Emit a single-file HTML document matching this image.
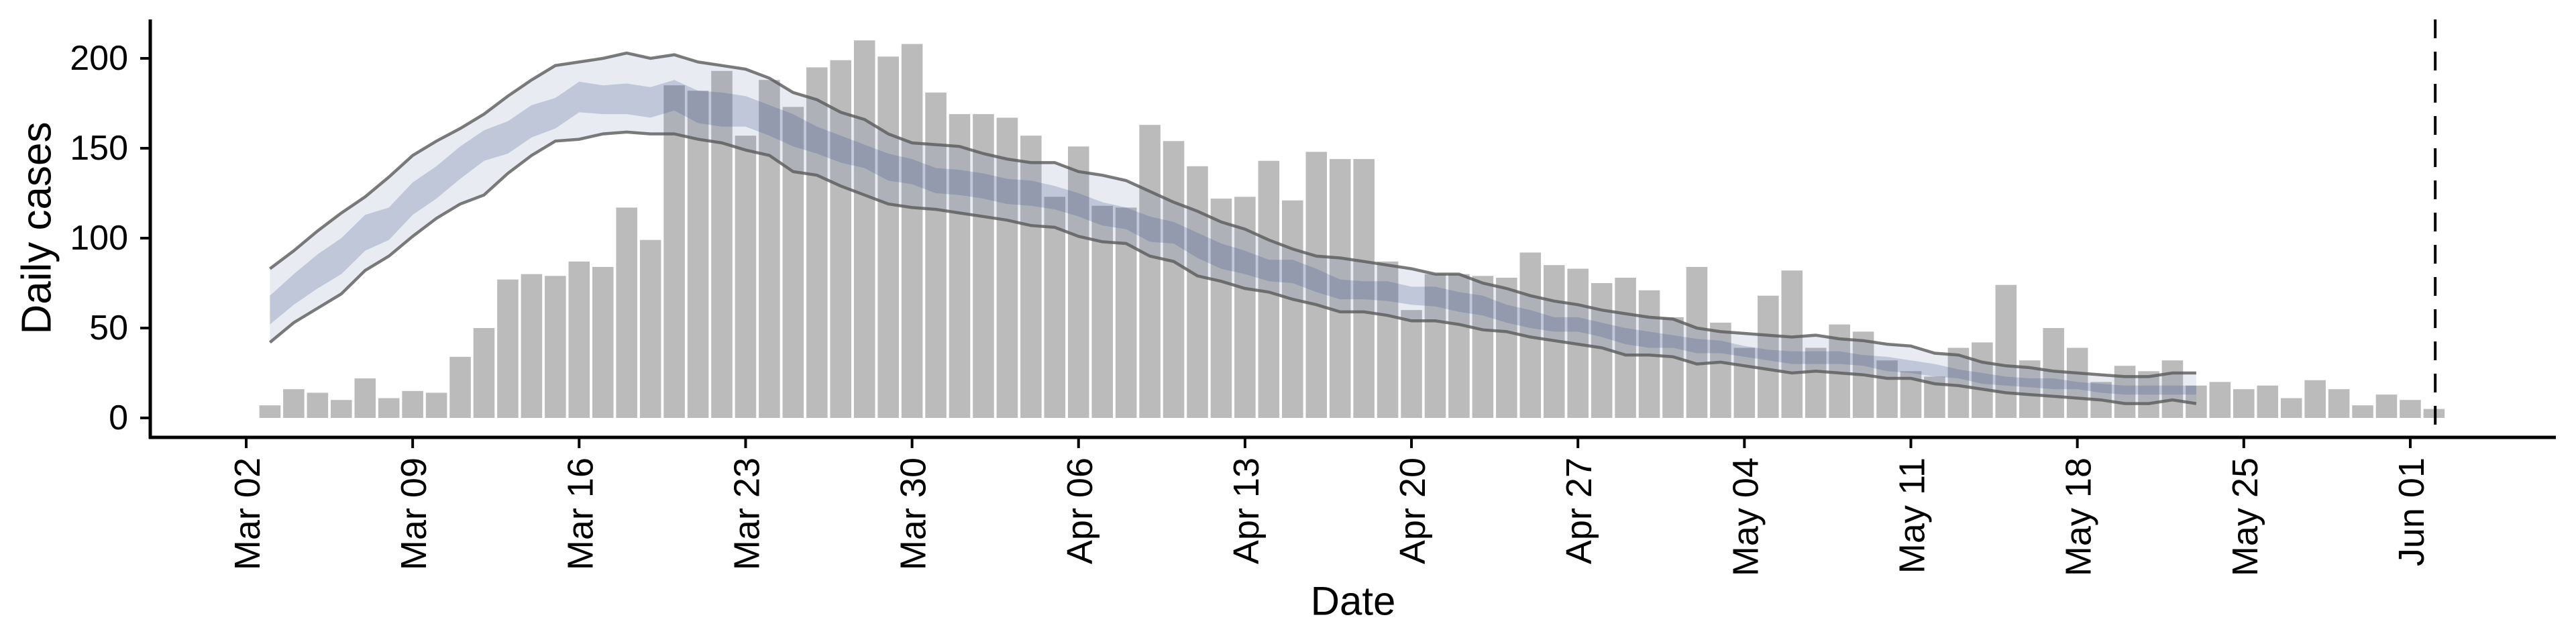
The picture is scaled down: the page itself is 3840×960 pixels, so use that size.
<!DOCTYPE html>
<html><head><meta charset="utf-8"><style>
html,body{margin:0;padding:0;background:#fff;}
svg{display:block;font-family:"Liberation Sans",Arial,sans-serif;}
</style></head><body>
<svg id="chart" width="3840" height="960" viewBox="0 0 3840 960">
<g id="bands"></g>
<g id="bars"></g>
<g id="overlay"></g>
<g id="axes"></g>
<text x="55" y="340" font-size="62" text-anchor="middle" dominant-baseline="central" transform="rotate(-90 55 340)">Daily cases</text>
<text x="2017" y="896" font-size="60" text-anchor="middle" dominant-baseline="central">Date</text>
</svg>
<script>
const cases = [7,16,14,10,22,11,15,14,34,50,77,80,79,87,84,117,99,185,182,193,157,188,173,195,199,210,201,208,181,169,169,167,157,123,151,118,117,163,154,140,122,123,143,121,148,144,144,87,60,80,80,79,78,92,85,83,75,78,71,56,84,53,39,68,82,39,52,48,32,26,23,39,42,74,32,50,39,20,29,26,32,18,20,16,18,11,21,16,7,13,10,5];
const upper90 = [83,93,104,114,123,134,146,154,161,169,179,188,196,198,200,203,200,202,198,196,194,189,181,177,170,166,158,153,152,151,147,144,142,142,137,135,132,126,120,115,109,105,99,94,90,89,87,85,83,80,80,75,72,68,65,63,60,58,56,55,50,48,47,46,45,46,44,43,41,40,36,35,31,29,28,26,25,24,23,23,25,25];
const lower90 = [42,53,61,69,82,90,101,111,119,124,136,146,154,155,158,159,158,158,155,153,149,146,137,135,129,124,119,117,116,114,112,110,107,106,101,98,97,90,87,79,76,72,70,66,63,59,59,57,54,54,52,49,48,45,43,41,39,35,35,34,30,31,29,27,25,26,25,24,22,22,19,18,16,14,13,12,11,10,8,8,10,8];
const upper50 = [68,80,91,100,113,117,131,140,151,160,165,174,178,187,185,186,184,188,182,181,179,174,169,162,157,152,147,144,139,138,136,133,132,129,125,120,117,112,109,103,97,93,88,88,83,77,76,76,73,73,70,68,63,60,56,56,53,50,48,46,44,43,40,38,37,37,37,35,34,32,30,27,25,23,22,22,20,19,18,18,18,18];
const lower50 = [52,63,72,80,93,99,113,122,133,143,147,156,161,170,169,169,167,171,164,162,162,157,151,147,142,139,132,130,125,124,122,119,118,116,112,107,105,98,97,89,83,80,76,75,70,66,66,65,63,62,59,57,53,50,48,48,45,41,39,39,36,36,34,32,30,30,30,29,26,25,23,22,19,18,17,16,16,14,13,13,13,13];
const yTicks = [0,50,100,150,200];
const xTickDays = [0,7,14,21,28,35,42,49,56,63,70,77,84,91];
const xTickLabels = ["Mar 02","Mar 09","Mar 16","Mar 23","Mar 30","Apr 06","Apr 13","Apr 20","Apr 27","May 04","May 11","May 18","May 25","Jun 01"];
const nowDay = 92.05;

const NS = "http://www.w3.org/2000/svg";
const X0 = 367, DAY = 35.45, Y0 = 623, YS = 2.68;
function xs(d){ return X0 + d*DAY; }
function ys(v){ return Y0 - v*YS; }
function mk(tag, attrs, parent){ const e=document.createElementNS(NS,tag); for(const k in attrs) e.setAttribute(k,attrs[k]); parent.appendChild(e); return e; }

const bars = document.getElementById('bars');
cases.forEach((v,i)=>{
  const d=i+1, w=DAY*0.89;
  const r=mk('rect',{x:xs(d)-w/2,y:ys(v),width:w,height:v*YS,fill:'#bbbbbb'},bars);
  
  
});

function bandPath(up, lo){
  let p='';
  up.forEach((v,i)=>{ p+=(i?'L':'M')+xs(i+1).toFixed(1)+','+ys(v).toFixed(1); });
  for(let i=lo.length-1;i>=0;i--) p+='L'+xs(i+1).toFixed(1)+','+ys(lo[i]).toFixed(1);
  return p+'Z';
}
function linePath(a){ return a.map((v,i)=>(i?'L':'M')+xs(i+1).toFixed(1)+','+ys(v).toFixed(1)).join(''); }

const ov = document.getElementById('overlay');
const b90 = mk('path',{d:bandPath(upper90,lower90),fill:'rgb(110,122,165)','fill-opacity':'0.15'},ov);


const b50 = mk('path',{d:bandPath(upper50,lower50),fill:'rgb(60,85,140)','fill-opacity':'0.24'},ov);


const lu = mk('path',{d:linePath(upper90),fill:'none',stroke:'#5a5a5a','stroke-opacity':'0.8','stroke-width':'4.5'},ov);


const ll = mk('path',{d:linePath(lower90),fill:'none',stroke:'#5a5a5a','stroke-opacity':'0.8','stroke-width':'4.5'},ov);



const ax = document.getElementById('axes');
const yl = mk('line',{x1:224,y1:29,x2:224,y2:654,stroke:'#000','stroke-width':'5'},ax);


const xl = mk('line',{x1:222,y1:652,x2:3810,y2:652,stroke:'#000','stroke-width':'5'},ax);


yTicks.forEach(v=>{
  const t=mk('line',{x1:209,y1:ys(v),x2:224,y2:ys(v),stroke:'#000','stroke-width':'4'},ax);
  
  
  const l=mk('text',{x:191,y:ys(v),'font-size':'52','text-anchor':'end','dominant-baseline':'central'},ax);
  l.textContent=v;
  
  
});
xTickDays.forEach((d,i)=>{
  const x=xs(d);
  const t=mk('line',{x1:x,y1:652,x2:x,y2:668,stroke:'#000','stroke-width':'4'},ax);
  
  
  const l=mk('text',{x:x+20,y:682,'font-size':'54','text-anchor':'end',transform:'rotate(-90 '+(x+20)+' 682)'},ax);
  l.textContent=xTickLabels[i];
  
  
});
const nl = mk('line',{x1:xs(nowDay),y1:29,x2:xs(nowDay),y2:652,stroke:'#000','stroke-width':'4','stroke-dasharray':'28 20'},ax);


</script>
</body></html>
